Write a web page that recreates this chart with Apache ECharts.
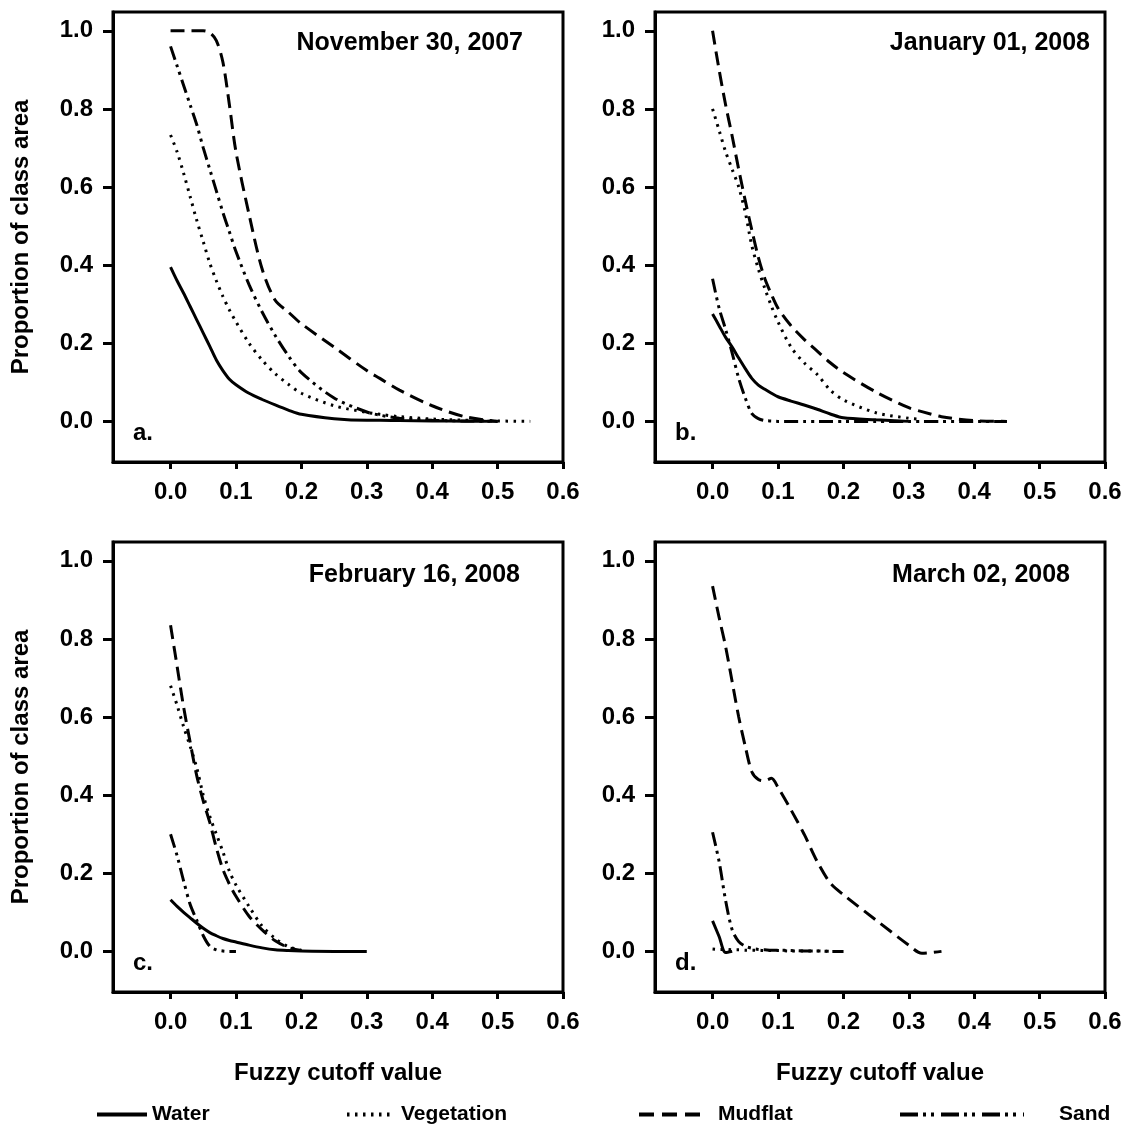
<!DOCTYPE html>
<html>
<head>
    <meta charset="utf-8">
    <title>Fuzzy cutoff value</title>
    <script src="https://cdn.jsdelivr.net/npm/echarts@6/dist/echarts.min.js"></script>
    <style>
        body { margin: 0; background: #fff; }
        #chart { width: 1125px; height: 1126px; }
    </style>
</head>
<body>
    <div id="chart"></div>
    <script>
        // fuzzy cutoff values used for every curve
        var cutoff = [0, 0.01, 0.02, 0.03, 0.04, 0.05, 0.06, 0.07, 0.08, 0.09, 0.10, 0.12, 0.14, 0.16, 0.18, 0.20, 0.25, 0.30, 0.32, 0.35, 0.40, 0.45, 0.50, 0.55];
        var xTicks = [0, 0.1, 0.2, 0.3, 0.4, 0.5, 0.6];
        var yTicks = [0, 0.2, 0.4, 0.6, 0.8, 1.0];
        var classes = ['Water', 'Vegetation', 'Mudflat', 'Sand'];
        var dates = ['November 30, 2007', 'January 01, 2008', 'February 16, 2008', 'March 02, 2008'];
        var letters = ['a.', 'b.', 'c.', 'd.'];

        // a. November 30, 2007
        var waterA = [0.395, 0.36, 0.328, 0.294, 0.26, 0.226, 0.192, 0.157, 0.13, 0.108, 0.094, 0.072, 0.056, 0.042, 0.029, 0.018, 0.007, 0.003, 0.003, 0.002, 0.001, 0.0005, 0];
        var vegA = [0.733, 0.69, 0.635, 0.575, 0.515, 0.46, 0.405, 0.36, 0.32, 0.285, 0.255, 0.20, 0.157, 0.122, 0.095, 0.072, 0.04, 0.023, 0.018, 0.012, 0.006, 0.003, 0.001, 0];
        var mudA = [1.0, 1.0, 1.0, 1.0, 1.0, 1.0, 0.995, 0.975, 0.92, 0.81, 0.69, 0.53, 0.39, 0.31, 0.28, 0.25, 0.19, 0.13, 0.11, 0.08, 0.04, 0.012, 0];
        var sandA = [0.96, 0.91, 0.86, 0.81, 0.76, 0.70, 0.645, 0.59, 0.535, 0.485, 0.435, 0.35, 0.28, 0.22, 0.168, 0.125, 0.06, 0.024, 0.016, 0.008, 0.003, 0.001, 0];

        // b. January 01, 2008
        var waterB = [0.275, 0.245, 0.215, 0.19, 0.162, 0.135, 0.11, 0.093, 0.082, 0.072, 0.063, 0.052, 0.042, 0.031, 0.019, 0.009, 0.004, 0];
        var vegB = [0.80, 0.745, 0.69, 0.645, 0.60, 0.535, 0.45, 0.39, 0.34, 0.295, 0.255, 0.19, 0.15, 0.12, 0.08, 0.055, 0.022, 0.008, 0.005];
        var mudB = [1.0, 0.90, 0.81, 0.73, 0.645, 0.565, 0.49, 0.42, 0.365, 0.325, 0.29, 0.245, 0.21, 0.18, 0.15, 0.125, 0.075, 0.035, 0.025, 0.012, 0.002, 0];
        var sandB = [0.365, 0.29, 0.235, 0.175, 0.11, 0.06, 0.02, 0.007, 0.002, 0.001, 0, 0, 0, 0, 0, 0, 0, 0, 0, 0, 0, 0];

        // c. February 16, 2008
        var waterC = [0.132, 0.115, 0.10, 0.086, 0.072, 0.059, 0.048, 0.04, 0.033, 0.028, 0.024, 0.016, 0.009, 0.004, 0.002, 0.001, 0, 0];
        var vegC = [0.68, 0.63, 0.575, 0.525, 0.47, 0.40, 0.345, 0.30, 0.255, 0.205, 0.17, 0.115, 0.065, 0.033, 0.012, 0.003];
        var mudC = [0.835, 0.73, 0.625, 0.535, 0.45, 0.385, 0.33, 0.265, 0.21, 0.172, 0.141, 0.09, 0.055, 0.027, 0.01, 0.002];
        var sandC = [0.30, 0.245, 0.18, 0.12, 0.08, 0.04, 0.013, 0.004, 0.001, 0, 0];

        // d. March 02, 2008
        var waterD = [0.078, 0.038, -0.003, 0];
        var vegD = [0.006, 0.005, 0.005, 0.004, 0.004, 0.003, 0.003, 0.003, 0.002, 0.002, 0.002, 0.001, 0.001, 0.001, 0, 0];
        var mudD = [0.935, 0.855, 0.78, 0.69, 0.60, 0.525, 0.46, 0.44, 0.437, 0.443, 0.42, 0.362, 0.30, 0.23, 0.175, 0.145, 0.08, 0.016, -0.005, 0];
        var sandD = [0.305, 0.23, 0.13, 0.055, 0.025, 0.013, 0.008, 0.005, 0.004, 0.003, 0.003, 0.002, 0.001, 0.001, 0, 0];

        var panels = [
            [waterA, vegA, mudA, sandA],
            [waterB, vegB, mudB, sandB],
            [waterC, vegC, mudC, sandC],
            [waterD, vegD, mudD, sandD]
        ];

        var FONT = '"Liberation Sans", Arial, sans-serif';
        var lineTypes = ['solid', [2.5, 5.5], [14, 7], [14, 5, 3, 5, 3, 5]];

        var lefts = [113, 655, 113, 655];
        var tops = [12, 12, 542, 542];
        var titlePos = [[523, 43], [1090, 43], [520, 575], [1070, 575]];

        var grids = [], xAxes = [], yAxes = [], series = [], graphics = [];
        for (var p = 0; p < 4; p++) {
            grids.push({left: lefts[p], top: tops[p], width: 450, height: 450,
                show: true, borderColor: '#000', borderWidth: 3, backgroundColor: 'transparent'});
            xAxes.push({
                type: 'value', gridIndex: p, min: -0.088, max: 0.6,
                name: p >= 2 ? 'Fuzzy cutoff value' : '', nameLocation: 'middle', nameGap: 69,
                nameTextStyle: {fontSize: 24, fontWeight: 'bold', fontFamily: FONT, color: '#000'},
                axisLine: {onZero: false, lineStyle: {color: '#000', width: 3}},
                axisTick: {customValues: xTicks, length: 7, lineStyle: {color: '#000', width: 3}},
                axisLabel: {customValues: xTicks, margin: 18, fontSize: 24, fontWeight: 'bold', fontFamily: FONT, color: '#000',
                    formatter: function (v) { return v.toFixed(1); }},
                splitLine: {show: false}
            });
            yAxes.push({
                type: 'value', gridIndex: p, min: -0.104, max: 1.048,
                name: (p % 2 == 0) ? 'Proportion of class area' : '', nameLocation: 'middle', nameGap: 80, nameRotate: 90,
                nameTextStyle: {fontSize: 24, fontWeight: 'bold', fontFamily: FONT, color: '#000'},
                axisLine: {onZero: false, lineStyle: {color: '#000', width: 3}},
                axisTick: {customValues: yTicks, length: 10, lineStyle: {color: '#000', width: 3}},
                axisLabel: {customValues: yTicks, margin: 20, fontSize: 24, fontWeight: 'bold', fontFamily: FONT, color: '#000',
                    formatter: function (v) { return v.toFixed(1); }},
                splitLine: {show: false}
            });
            for (var k = 0; k < 4; k++) {
                series.push({
                    name: classes[k], type: 'line', xAxisIndex: p, yAxisIndex: p,
                    data: panels[p][k].map(function (v, i) { return [cutoff[i], v]; }),
                    smooth: 0.3, symbol: 'none', showSymbol: false, animation: false,
                    lineStyle: {color: '#000', width: 3, type: lineTypes[k]},
                    itemStyle: {color: '#000'}
                });
            }
            graphics.push({type: 'text', style: {text: dates[p], x: titlePos[p][0], y: titlePos[p][1],
                textAlign: 'right', textVerticalAlign: 'middle', align: 'right', verticalAlign: 'middle',
                font: 'bold 25px ' + FONT, fill: '#000'}});
            graphics.push({type: 'text', style: {text: letters[p], x: lefts[p] + 20, y: tops[p] + 421,
                textAlign: 'left', textVerticalAlign: 'middle', align: 'left', verticalAlign: 'middle',
                font: 'bold 24px ' + FONT, fill: '#000'}});
        }

        function legendFor(name, left, width, gap, dash) {
            return {
                data: [name], left: left, top: 1099, itemWidth: width, itemHeight: 14,
                selectedMode: false,
                itemStyle: {opacity: 0},
                lineStyle: {width: 4, color: '#000', type: dash},
                textStyle: {fontSize: 21, fontWeight: 'bold', fontFamily: FONT, color: '#000', padding: [4, 0, 0, gap]}
            };
        }

        var chart = echarts.init(document.getElementById('chart'));
        chart.setOption({
            backgroundColor: '#fff',
            animation: false,
            grid: grids,
            xAxis: xAxes,
            yAxis: yAxes,
            legend: [
                legendFor('Water', 90, 50, 0, 'solid'),
                legendFor('Vegetation', 340, 45, 4, [2.5, 5.5]),
                legendFor('Mudflat', 632, 61, 13, [15, 8]),
                legendFor('Sand', 893, 124, 30, [18, 5, 3, 5, 3, 7])
            ],
            graphic: graphics,
            series: series
        });
    </script>
</body>
</html>
